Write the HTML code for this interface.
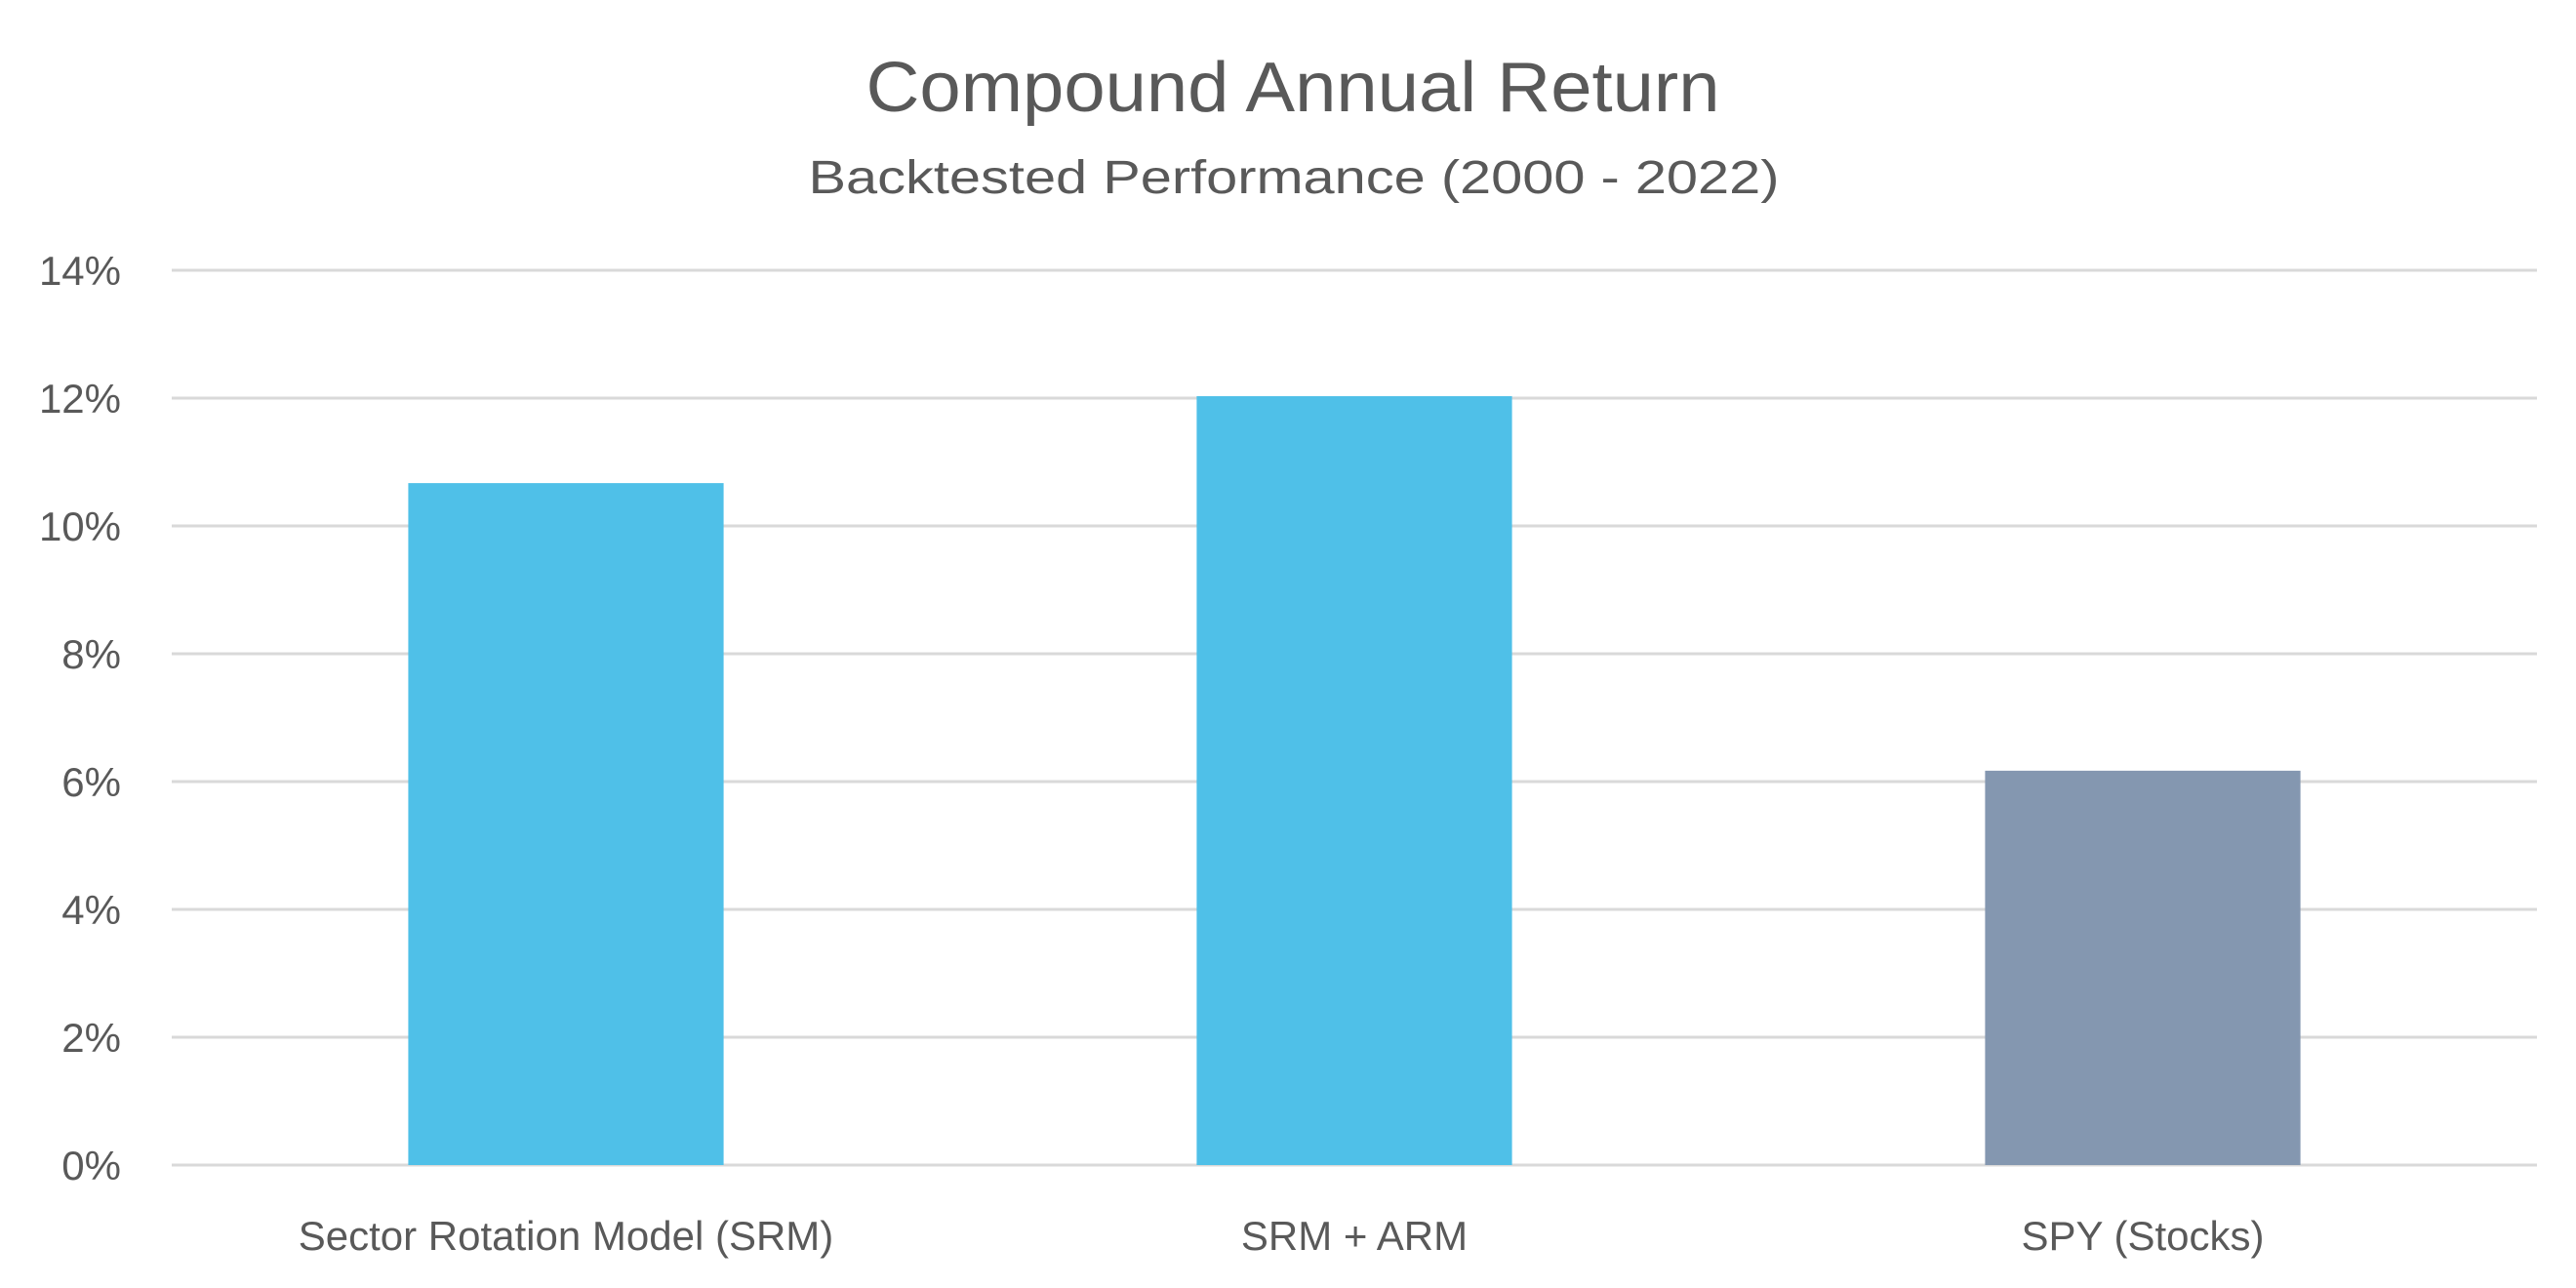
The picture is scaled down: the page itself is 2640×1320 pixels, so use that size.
<!DOCTYPE html>
<html><head><meta charset="utf-8"><style>html,body{margin:0;padding:0;background:#fff}svg{display:block}</style></head>
<body>
<svg id="chart" width="2640" height="1320" xmlns="http://www.w3.org/2000/svg" font-family="Liberation Sans, sans-serif">
<text x="1325" y="114" text-anchor="middle" font-size="72" fill="#595959" textLength="875" lengthAdjust="spacingAndGlyphs">Compound Annual Return</text>
<text x="1326" y="198" text-anchor="middle" font-size="48" fill="#595959" textLength="995" lengthAdjust="spacingAndGlyphs">Backtested Performance (2000 - 2022)</text>
<g id="grid"></g>
<g id="bars"></g>
<g id="labels"></g>
</svg>
<script>
const categories = ["Sector Rotation Model (SRM)", "SRM + ARM", "SPY (Stocks)"];
const values = [10.67, 12.03, 6.17];
const barColors = ["#4FC0E8", "#4FC0E8", "#8497B0"];
const yTicks = [0, 2, 4, 6, 8, 10, 12, 14];
const NS = "http://www.w3.org/2000/svg";
const left = 176, right = 2600, y0 = 1194, yTop = 277, yMax = 14;
const y = v => y0 - (v / yMax) * (y0 - yTop);
const band = (right - left) / categories.length;
const xc = i => left + band * (i + 0.5);
const bw = band * 0.4;
const grid = document.getElementById('grid'), bars = document.getElementById('bars'), labels = document.getElementById('labels');
yTicks.forEach(t => {
  const l = document.createElementNS(NS, 'line');
  
  
  l.setAttribute('x1', left); l.setAttribute('x2', right);
  l.setAttribute('y1', y(t)); l.setAttribute('y2', y(t));
  l.setAttribute('stroke', '#D9D9D9'); l.setAttribute('stroke-width', '3');
  grid.appendChild(l);
  const tx = document.createElementNS(NS, 'text');
  
  
  tx.setAttribute('x', 124); tx.setAttribute('y', y(t) + 15);
  tx.setAttribute('text-anchor', 'end'); tx.setAttribute('font-size', '42'); tx.setAttribute('fill', '#595959');
  tx.textContent = t + '%';
  labels.appendChild(tx);
});
categories.forEach((c, i) => {
  const r = document.createElementNS(NS, 'rect');
  
  
  r.setAttribute('x', xc(i) - bw / 2); r.setAttribute('width', bw);
  r.setAttribute('y', y(values[i])); r.setAttribute('height', y0 - y(values[i]));
  r.setAttribute('fill', barColors[i]);
  bars.appendChild(r);
  const tx = document.createElementNS(NS, 'text');
  
  
  tx.setAttribute('x', xc(i)); tx.setAttribute('y', 1281);
  tx.setAttribute('text-anchor', 'middle'); tx.setAttribute('font-size', '42'); tx.setAttribute('fill', '#595959');
  tx.textContent = c;
  labels.appendChild(tx);
});
</script>
</body></html>
